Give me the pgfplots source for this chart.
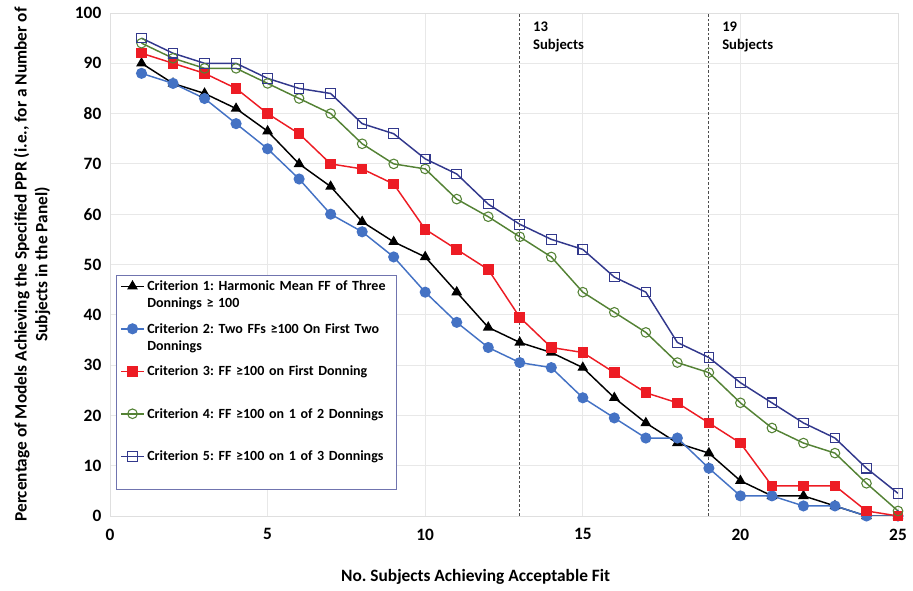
\documentclass[border=0pt]{standalone}
\usepackage{pgfplots}
\pgfplotsset{compat=1.18}
\usepackage{fontspec}
\setmainfont{Carlito}

\definecolor{cblue}{RGB}{68,114,196}
\definecolor{cred}{RGB}{237,28,36}
\definecolor{cgreen}{RGB}{84,130,53}
\definecolor{cnavy}{RGB}{50,56,140}

\pgfplotstableread{
x   c1    c2    c3    c4    c5
1   90    88    92    94    95
2   86    86    90    91    92
3   84    83    88    89    90
4   81    78    85    89    90
5   76.5  73    80    86    87
6   70    67    76    83    85
7   65.5  60    70    80    84
8   58.5  56.5  69    74    78
9   54.5  51.5  66    70    76
10  51.5  44.5  57    69    71
11  44.5  38.5  53    63    68
12  37.5  33.5  49    59.5  62
13  34.5  30.5  39.5  55.5  58
14  32.5  29.5  33.5  51.5  55
15  29.5  23.5  32.5  44.5  53
16  23.5  19.5  28.5  40.5  47.5
17  18.5  15.5  24.5  36.5  44.5
18  14.5  15.5  22.5  30.5  34.5
19  12.5  9.5   18.5  28.5  31.5
20  7     4     14.5  22.5  26.5
21  4     4     6     17.5  22.5
22  4     2     6     14.5  18.5
23  2     2     6     12.5  15.5
24  0     0     1     6.5   9.5
25  0     0     0     1     4.5
}\ppr

\begin{document}
\frenchspacing
\begin{tikzpicture}
\begin{axis}[
  name=ax,
  width=591pt, height=377.25pt, scale only axis,
  xmin=0, xmax=25, ymin=0, ymax=100,
  xtick={0,5,...,25}, ytick={0,10,...,100},
  grid=major,
  major grid style={gray!18, line width=0.6pt},
  axis line style={gray!25},
  tick style={draw=none},
  font=\fontsize{13}{15.6}\selectfont\bfseries,
  /pgf/number format/assume math mode=true,
  yticklabel style={xshift=-3pt},
  xticklabel style={yshift=-6pt},
  xlabel={No. Subjects Achieving Acceptable Fit},
  ylabel={Percentage of Models Achieving the Specified PPR (i.e., for a Number of\\Subjects in the Panel)},
  every axis x label/.style={at={(rel axis cs:0.464,0)}, yshift=-45.75pt, anchor=center},
  every axis y label/.style={at={(rel axis cs:0,0.5)}, xshift=-58.5pt, rotate=90, anchor=center, align=center},
  legend cell align=left,
  legend style={at={(rel axis cs:0.0076,0.479)}, anchor=north west,
    draw=cnavy!70, line width=0.6pt, fill=white, row sep=3pt,
    font=\fontsize{10.5}{12.8}\selectfont\bfseries,
    nodes={text width=182pt, align=left, text depth=17.5pt}},
  legend image post style={yshift=8.3pt},
  every axis plot/.append style={line width=1.1pt},
]
\addplot[black, mark=triangle*, mark size=3.6pt, mark options={fill=black}] table[x=x, y=c1] {\ppr};
\addlegendentry{Criterion 1: Harmonic Mean FF of Three\\Donnings ≥ 100}
\addplot[cblue, mark=*, mark size=3.6pt, mark options={fill=cblue}] table[x=x, y=c2] {\ppr};
\addlegendentry{Criterion 2: Two FFs ≥100 On First Two\\Donnings}
\addplot[cred, mark=square*, mark size=3.4pt, mark options={fill=cred}] table[x=x, y=c3] {\ppr};
\addlegendentry{Criterion 3: FF ≥100 on First Donning}
\addplot[cgreen, mark=o, mark size=3.6pt, mark options={fill=white, line width=0.8pt}] table[x=x, y=c4] {\ppr};
\addlegendentry{Criterion 4: FF ≥100 on 1 of 2 Donnings}
\addplot[cnavy, mark=square, mark size=3.6pt, mark options={fill=white, line width=0.8pt}] table[x=x, y=c5] {\ppr};
\addlegendentry{Criterion 5: FF ≥100 on 1 of 3 Donnings}
\addplot[forget plot, gray!60!black, line width=0.6pt, dash pattern=on 2pt off 1.5pt] coordinates {(13,0) (13,100)};
\addplot[forget plot, gray!60!black, line width=0.6pt, dash pattern=on 2pt off 1.5pt] coordinates {(19,0) (19,100)};
\node[anchor=north west, align=left, xshift=6.5pt, yshift=-3pt, font=\fontsize{11}{13.5}\selectfont\bfseries] at (axis cs:13,100) {13\\Subjects};
\node[anchor=north west, align=left, xshift=6.5pt, yshift=-3pt, font=\fontsize{11}{13.5}\selectfont\bfseries] at (axis cs:19,100) {19\\Subjects};
\end{axis}
\pgfresetboundingbox
\path ([shift={(-82.5pt,-56.25pt)}]ax.south west) rectangle ([shift={(11.25pt,9.75pt)}]ax.north east);
\end{tikzpicture}
\end{document}
